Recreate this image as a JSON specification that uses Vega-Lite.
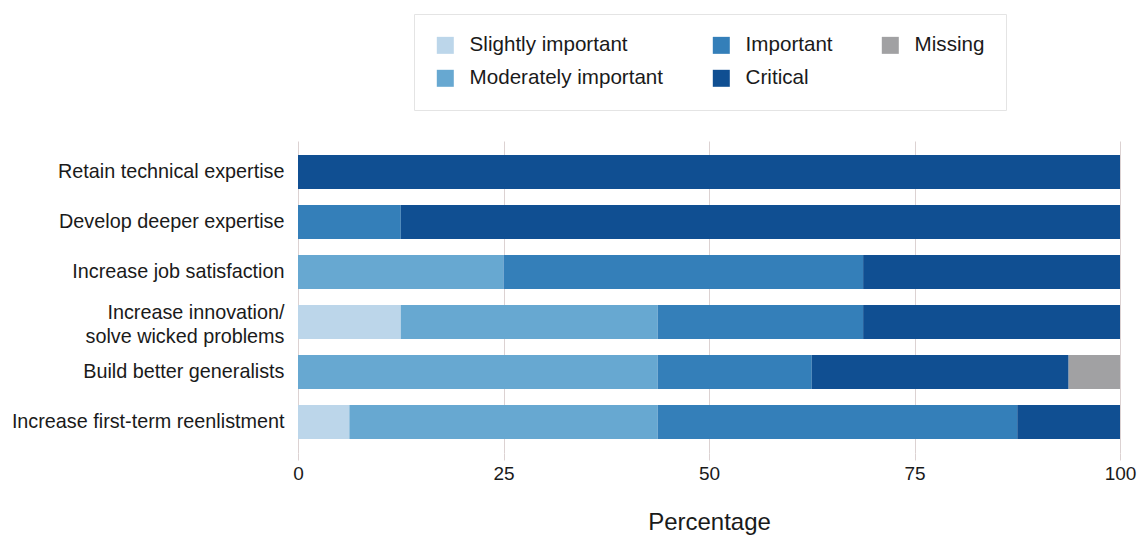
{
  "$schema": "https://vega.github.io/schema/vega-lite/v6.json",
  "width": 822,
  "height": 312,
  "autosize": {"type": "none"},
  "padding": {"left": 298, "top": 141, "right": 21, "bottom": 82},
  "background": "white",
  "config": {
    "view": {"stroke": null},
    "font": "Liberation Sans",
    "axis": {"labelFont": "Liberation Sans", "titleFont": "Liberation Sans", "labelColor": "#1a1a1a", "titleColor": "#1a1a1a"}
  },
  "data": {
    "values": [
      {"goal": "Retain technical expertise", "level": "Critical", "rank": 4, "pct": 100},
      {"goal": "Develop deeper expertise", "level": "Important", "rank": 3, "pct": 12.5},
      {"goal": "Develop deeper expertise", "level": "Critical", "rank": 4, "pct": 87.5},
      {"goal": "Increase job satisfaction", "level": "Moderately important", "rank": 2, "pct": 25},
      {"goal": "Increase job satisfaction", "level": "Important", "rank": 3, "pct": 43.75},
      {"goal": "Increase job satisfaction", "level": "Critical", "rank": 4, "pct": 31.25},
      {"goal": "Increase innovation/ solve wicked problems", "level": "Slightly important", "rank": 1, "pct": 12.5},
      {"goal": "Increase innovation/ solve wicked problems", "level": "Moderately important", "rank": 2, "pct": 31.25},
      {"goal": "Increase innovation/ solve wicked problems", "level": "Important", "rank": 3, "pct": 25},
      {"goal": "Increase innovation/ solve wicked problems", "level": "Critical", "rank": 4, "pct": 31.25},
      {"goal": "Build better generalists", "level": "Moderately important", "rank": 2, "pct": 43.75},
      {"goal": "Build better generalists", "level": "Important", "rank": 3, "pct": 18.75},
      {"goal": "Build better generalists", "level": "Critical", "rank": 4, "pct": 31.25},
      {"goal": "Build better generalists", "level": "Missing", "rank": 5, "pct": 6.25},
      {"goal": "Increase first-term reenlistment", "level": "Slightly important", "rank": 1, "pct": 6.25},
      {"goal": "Increase first-term reenlistment", "level": "Moderately important", "rank": 2, "pct": 37.5},
      {"goal": "Increase first-term reenlistment", "level": "Important", "rank": 3, "pct": 43.75},
      {"goal": "Increase first-term reenlistment", "level": "Critical", "rank": 4, "pct": 12.5}
    ]
  },
  "mark": {"type": "bar"},
  "encoding": {
    "y": {
      "field": "goal",
      "type": "nominal",
      "sort": ["Retain technical expertise", "Develop deeper expertise", "Increase job satisfaction", "Increase innovation/ solve wicked problems", "Build better generalists", "Increase first-term reenlistment"],
      "scale": {"paddingInner": 0.32, "paddingOuter": 0.28},
      "axis": {
        "title": null,
        "domain": false,
        "ticks": false,
        "labelPadding": 14,
        "labelFontSize": 19.8,
        "labelLimit": 400,
        "labelLineHeight": 24,
        "labelOffset": {"condition": {"test": "datum.value == 'Increase innovation/ solve wicked problems'", "value": -9}, "value": 0},
        "labelExpr": "datum.value == 'Increase innovation/ solve wicked problems' ? ['Increase innovation/', 'solve wicked problems'] : datum.value"
      }
    },
    "x": {
      "field": "pct",
      "type": "quantitative",
      "stack": "zero",
      "scale": {"domain": [0, 100], "nice": false},
      "axis": {
        "title": "Percentage",
        "values": [0, 25, 50, 75, 100],
        "grid": true,
        "gridColor": "#dcd2d2",
        "gridWidth": 1,
        "domain": false,
        "ticks": true,
        "tickColor": "#dcd2d2",
        "tickSize": 7,
        "labelPadding": 4,
        "labelFontSize": 19,
        "labelFlush": false,
        "titleFontSize": 24,
        "titleFontWeight": "normal",
        "titlePadding": 27
      }
    },
    "color": {
      "field": "level",
      "type": "nominal",
      "scale": {
        "domain": ["Slightly important", "Moderately important", "Important", "Critical", "Missing"],
        "range": ["#bcd6ea", "#67a8d1", "#347fb9", "#104f92", "#a1a1a3"]
      },
      "legend": {
        "title": null,
        "orient": "none",
        "legendX": 116,
        "legendY": -127,
        "columns": 3,
        "gridAlign": "each",
        "columnPadding": 47,
        "rowPadding": 12,
        "padding": 21,
        "fillColor": "white",
        "strokeColor": "#e4e4e4",
        "symbolType": "square",
        "symbolSize": 289,
        "symbolStrokeWidth": 0,
        "symbolOpacity": 1,
        "labelFontSize": 20.6,
        "labelOffset": 14,
        "labelColor": "#1a1a1a",
        "labelFont": "Liberation Sans",
        "labelLimit": 400
      }
    },
    "order": {"field": "rank", "type": "quantitative"}
  }
}
